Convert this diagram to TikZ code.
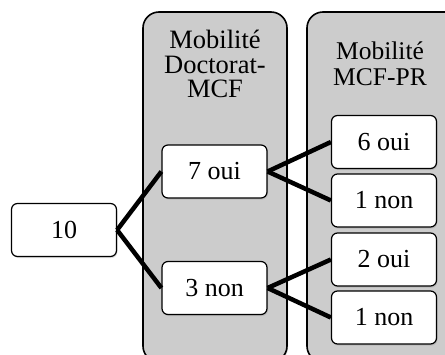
\documentclass[tikz,border=0pt]{standalone}
\usepackage{fontspec}
\setmainfont{Liberation Serif}
\usetikzlibrary{shadows}

\begin{document}
\begin{tikzpicture}[x=1pt,y=-1pt,
    every edge/.style={draw,line width=4.5pt},
    panel/.style={draw=black,fill=black!20,line width=1.6pt,rounded corners=16pt,
        drop shadow={shadow xshift=1pt,shadow yshift=-1.5pt,opacity=0.3}},
    head/.style={inner sep=0pt,align=center}]
    \useasboundingbox (0,0) rectangle (445,354);
    \clip (0,0) rectangle (445,354);
    % columns
    \draw[panel] (143,12) rectangle (287,362);
    \draw[panel] (307,12) rectangle (462,362);
    \node[head,anchor=north,font=\fontsize{26.5}{24.5}\selectfont] (h1) at (215,30) {Mobilité\\Doctorat-\\MCF};
    \node[head,anchor=north,font=\fontsize{25.5}{26}\selectfont] (h2) at (380,41.5) {Mobilité\\MCF-PR};
    \begin{scope}[every node/.style={draw=black,fill=white,rounded corners=6pt,line width=1.2pt,
            minimum width=105pt,minimum height=53pt,inner sep=0pt,
            font=\fontsize{26}{26}\selectfont,
            drop shadow={shadow xshift=1pt,shadow yshift=-1.5pt,opacity=0.25}}]
        \node (n10) at (64,230) {10};
        \node (d1) at (214.5,171.5) {7 oui};
        \node (d2) at (214.5,288) {3 non};
        \node (p1) at (384,142) {6 oui};
        \node (p2) at (384,200.5) {1 non};
        \node (p3) at (384,259.5) {2 oui};
        \node (p4) at (384,317.5) {1 non};
    \end{scope}
    \draw (n10.east) edge (d1.west);
    \draw (n10.east) edge (d2.west);
    \draw (d1.east) edge (p1.west);
    \draw (d1.east) edge (p2.west);
    \draw (d2.east) edge (p3.west);
    \draw (d2.east) edge (p4.west);
\end{tikzpicture}
\end{document}
